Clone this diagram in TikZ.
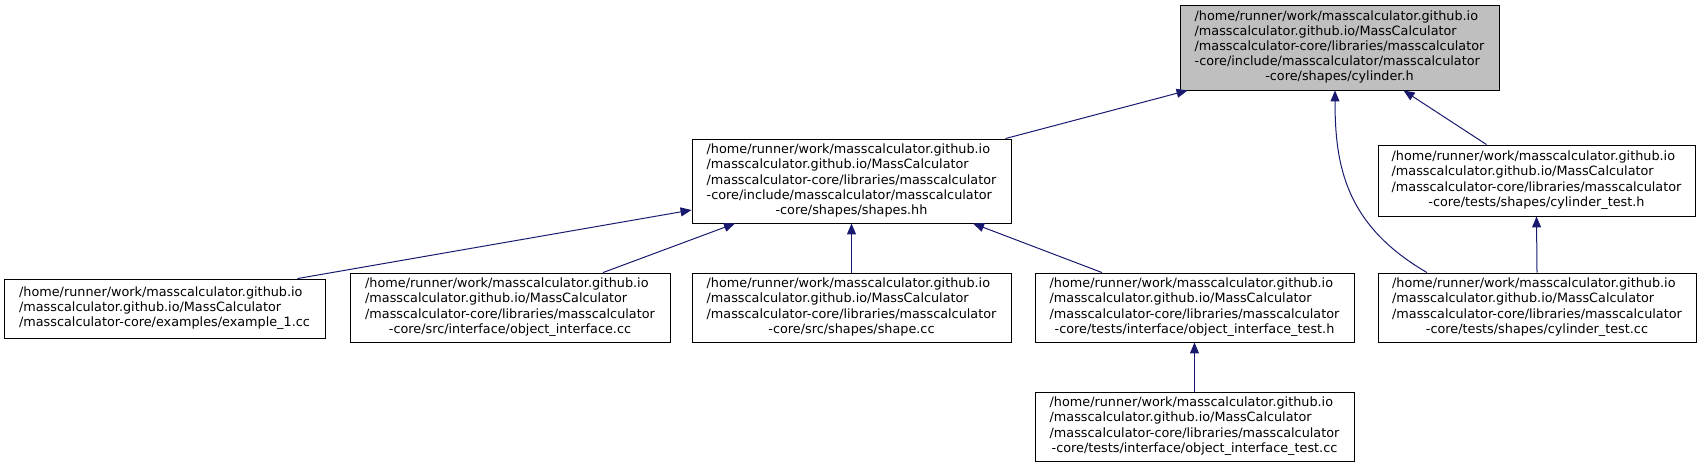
\documentclass[tikz,border=0pt]{standalone}
\usepackage{fontspec}
\setmainfont{DejaVu Sans}
\usetikzlibrary{arrows.meta}
\definecolor{edgeblue}{HTML}{191970}
\definecolor{topfill}{HTML}{BFBFBF}
\tikzset{
  box/.style={draw=black, line width=0.9pt, fill=white, inner sep=0pt,
    font=\fontsize{12.8}{15.2}\selectfont, minimum width=319pt},
  edge/.style={draw=edgeblue, line width=1pt, -{Triangle[length=11pt,width=9pt]}},
}
\newcommand{\lab}[2]{\begin{tabular}{@{}l@{}}#1\\\multicolumn{1}{@{}c@{}}{#2}\end{tabular}}
\begin{document}
\begin{tikzpicture}[x=1pt,y=-1pt]
\useasboundingbox (0,0) rectangle (1702,467);
\node[box, fill=topfill, minimum height=85pt] (cyl) at (1339.5,47.5)
  {\lab{/home/runner/work/masscalculator.github.io\\/masscalculator.github.io/MassCalculator\\/masscalculator-core/libraries/masscalculator\\-core/include/masscalculator/masscalculator}{-core/shapes/cylinder.h}};
\node[box, minimum height=84pt] (shapes) at (851.5,181)
  {\lab{/home/runner/work/masscalculator.github.io\\/masscalculator.github.io/MassCalculator\\/masscalculator-core/libraries/masscalculator\\-core/include/masscalculator/masscalculator}{-core/shapes/shapes.hh}};
\node[box, minimum width=317pt, minimum height=71pt] (cth) at (1536.5,180.5)
  {\lab{/home/runner/work/masscalculator.github.io\\/masscalculator.github.io/MassCalculator\\/masscalculator-core/libraries/masscalculator}{-core/tests/shapes/cylinder\_test.h}};
\node[box, minimum width=321pt, minimum height=59pt] (ex) at (164.5,308.5)
  {\lab{/home/runner/work/masscalculator.github.io\\/masscalculator.github.io/MassCalculator}{/masscalculator-core/examples/example\_1.cc}};
\node[box, minimum width=320pt, minimum height=69pt] (oic) at (510,307.5)
  {\lab{/home/runner/work/masscalculator.github.io\\/masscalculator.github.io/MassCalculator\\/masscalculator-core/libraries/masscalculator}{-core/src/interface/object\_interface.cc}};
\node[box, minimum height=69pt] (shc) at (851.5,307.5)
  {\lab{/home/runner/work/masscalculator.github.io\\/masscalculator.github.io/MassCalculator\\/masscalculator-core/libraries/masscalculator}{-core/src/shapes/shape.cc}};
\node[box, minimum height=69pt] (oith) at (1194.5,307.5)
  {\lab{/home/runner/work/masscalculator.github.io\\/masscalculator.github.io/MassCalculator\\/masscalculator-core/libraries/masscalculator}{-core/tests/interface/object\_interface\_test.h}};
\node[box, minimum width=318pt, minimum height=69pt] (ctc) at (1537,307.5)
  {\lab{/home/runner/work/masscalculator.github.io\\/masscalculator.github.io/MassCalculator\\/masscalculator-core/libraries/masscalculator}{-core/tests/shapes/cylinder\_test.cc}};
\node[box, minimum height=69pt] (oitc) at (1194.5,426.5)
  {\lab{/home/runner/work/masscalculator.github.io\\/masscalculator.github.io/MassCalculator\\/masscalculator-core/libraries/masscalculator}{-core/tests/interface/object\_interface\_test.cc}};
% edges
\draw[edge] ([xshift=-6pt]shapes.north east) -- ([xshift=8pt]cyl.south west);
\draw[edge] ([xshift=-110pt]ctc.north) .. controls (1345,225) and (1335,165) .. ([xshift=-4.5pt]cyl.south);
\draw[edge] ([xshift=-50pt]cth.north) -- ([xshift=64pt]cyl.south);
\draw[edge] (ctc.north) -- (cth.south);
\draw[edge] ([xshift=-28pt]ex.north east) -- ([yshift=-29pt]shapes.west);
\draw[edge] ([xshift=93pt]oic.north) -- ([xshift=-116.5pt]shapes.south);
\draw[edge] (shc.north) -- (shapes.south);
\draw[edge] ([xshift=-92.5pt]oith.north) -- ([xshift=121.5pt]shapes.south);
\draw[edge] (oitc.north) -- (oith.south);
\end{tikzpicture}
\end{document}
